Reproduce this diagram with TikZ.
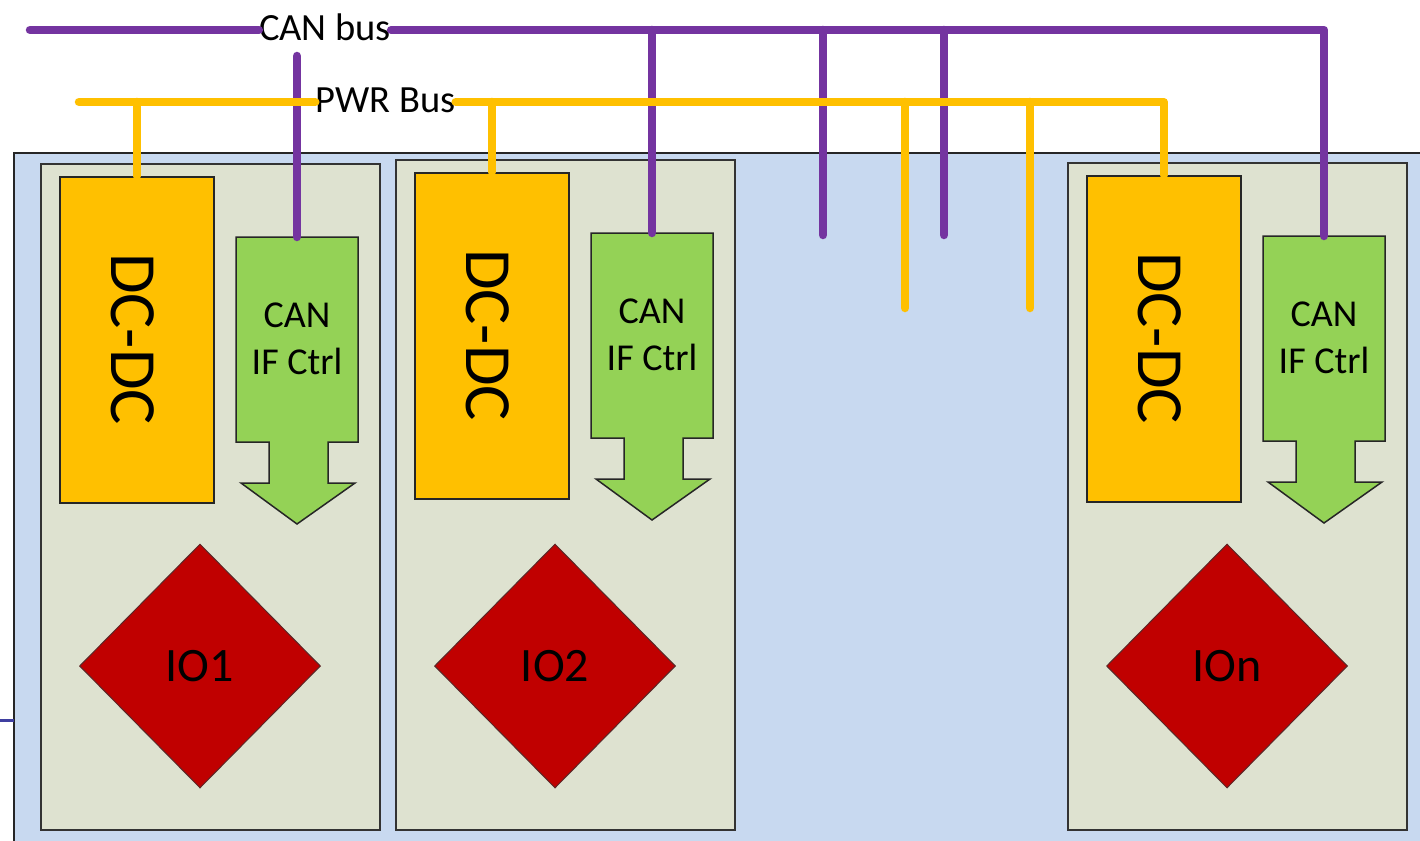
\documentclass[tikz,border=0pt]{standalone}
\usepackage{fontspec}
\setmainfont{Carlito}
\usetikzlibrary{shapes.geometric}
\definecolor{busP}{RGB}{116,52,160}
\definecolor{busY}{RGB}{255,192,0}
\definecolor{canG}{RGB}{148,210,86}
\definecolor{ioR}{RGB}{192,0,0}
\definecolor{bgB}{RGB}{200,217,240}
\definecolor{modF}{RGB}{222,226,208}
\definecolor{edgeB}{RGB}{63,63,160}
\newcommand{\iomod}[4]{%
\begin{scope}[shift={(#2,#3)}]
\pgfmathsetmacro{\modh}{829-#3}
\pgfmathsetmacro{\ioy}{666-#3}
\node[modbox,minimum height=\modh pt] (mod#1) at (0,0) {};
\node[dcbox] (dc#1) at (19,13) {};
\node[dctext] (dct#1) at (93,176) {DC-DC};
\draw[canshape] (196,74) -- (318,74) -- (318,279) -- (288,279) -- (288,320) -- (315,320) -- (257,361) -- (201,320) -- (229,320) -- (229,279) -- (196,279) -- cycle;
\coordinate (can#1) at (257,74);
\node[cantext] (cif#1) at (257,175.5) {CAN\\IF Ctrl};
\node[iobox] (io#1) at (160,\ioy) {#4};
\end{scope}}
\begin{document}
\begin{tikzpicture}[x=1pt,y=-1pt,
  modbox/.style={draw=black!80,line width=2.2pt,fill=modF,anchor=north west,minimum width=339pt,inner sep=0pt},
  dcbox/.style={draw=black!85,line width=1.5pt,fill=busY,anchor=north west,minimum width=154pt,minimum height=326pt,inner sep=0pt},
  dctext/.style={rotate=-90,inner sep=0pt,font=\fontsize{66}{70}\selectfont},
  canshape/.style={draw=black!85,line width=1.5pt,fill=canG},
  cantext/.style={align=center,inner sep=0pt,font=\fontsize{38}{47}\selectfont},
  iobox/.style={diamond,aspect=1,draw={rgb,255:red,90;green,40;blue,40},line width=1pt,fill=ioR,minimum width=241pt,minimum height=244pt,inner sep=0pt,font=\fontsize{48}{50}\selectfont},
  buslabel/.style={fill=white,inner xsep=0pt,inner ysep=0pt,font=\fontsize{38.5}{40}\selectfont},
  canbus/.style={draw=busP,line width=8.5pt,line cap=round,line join=round},
  pwrbus/.style={draw=busY,line width=8.5pt,line cap=round,line join=round}]
\clip (0,0) rectangle (1420,840);
\fill[white] (0,0) rectangle (1420,840);
% rack background
\draw[fill=bgB,draw=black!85,line width=1.8pt] (14,153) rectangle (1450,880);
\coordinate (stubL) at (0,720);
\coordinate (stubR) at (14,720);
\draw[edgeB,line width=3pt] (stubL) -- (stubR);
% modules
\iomod{1}{40}{163}{IO1}
\iomod{2}{395}{159}{IO2}
\iomod{3}{1067}{162}{IOn}
% CAN bus
\coordinate (canL) at (30,30);
\node[buslabel] (canlbl) at (325,27) {CAN bus};
\coordinate (canstub) at (297,56);
\coordinate (cfree1) at (823,235);
\coordinate (cfree2) at (944,235);
\draw[canbus] (canL) -- (canlbl.west |- canL);
\draw[canbus] (canlbl.east |- canL) -- (can3 |- canL) -- (can3);
\draw[canbus] (canstub) -- (can1);
\draw[canbus] (can2 |- canL) -- (can2);
\draw[canbus] (cfree1 |- canL) -- (cfree1);
\draw[canbus] (cfree2 |- canL) -- (cfree2);
% PWR bus
\coordinate (pwrL) at (79,102);
\node[buslabel] (pwrlbl) at (385.5,100) {PWR Bus};
\coordinate (pfree1) at (905,308);
\coordinate (pfree2) at (1030,308);
\draw[pwrbus] (pwrL) -- (pwrlbl.west |- pwrL);
\draw[pwrbus] (pwrlbl.east |- pwrL) -- (dc3.north |- pwrL) -- (dc3.north);
\draw[pwrbus] (dc1.north |- pwrL) -- (dc1.north);
\draw[pwrbus] (dc2.north |- pwrL) -- (dc2.north);
\draw[pwrbus] (pfree1 |- pwrL) -- (pfree1);
\draw[pwrbus] (pfree2 |- pwrL) -- (pfree2);
\end{tikzpicture}
\end{document}
